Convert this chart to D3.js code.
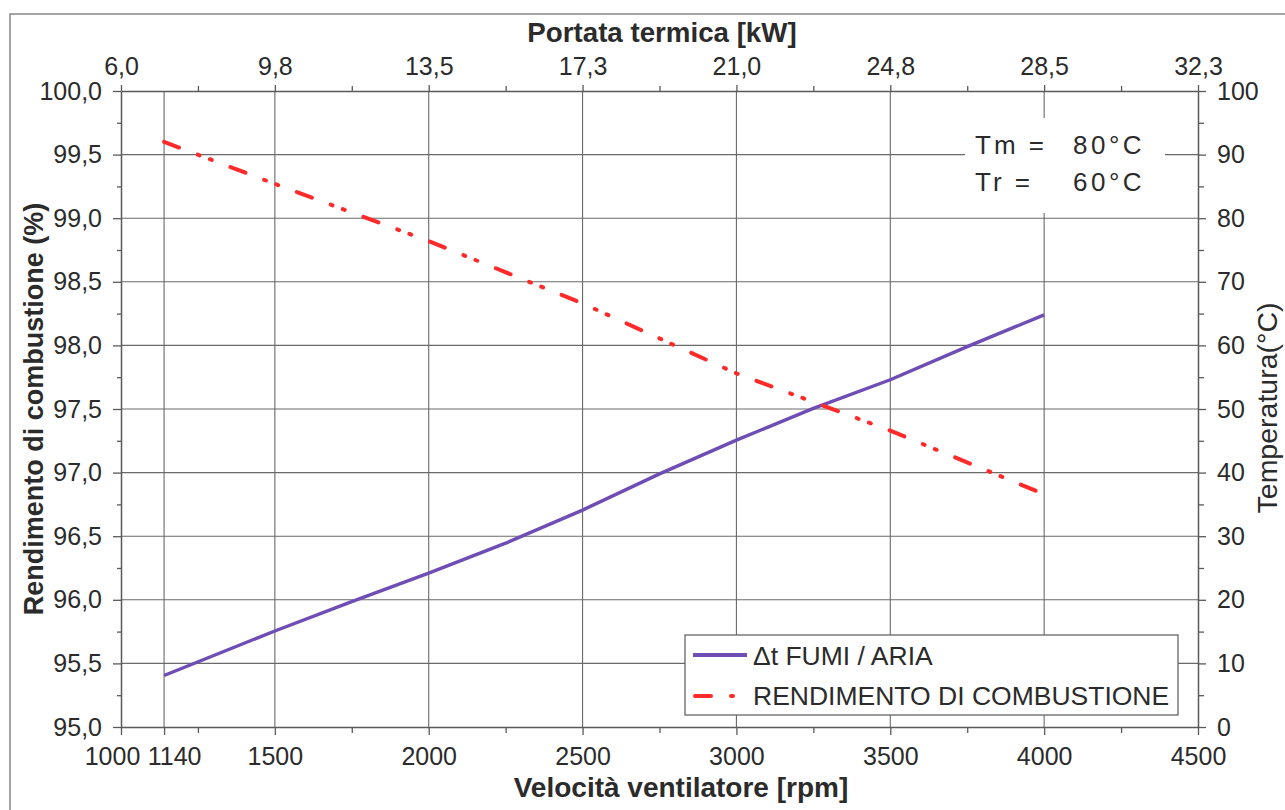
<!DOCTYPE html>
<html><head><meta charset="utf-8">
<script src="https://cdn.jsdelivr.net/npm/d3@7"></script>
<style>
body{margin:0;background:#fff}
text{font-family:"Liberation Sans",Arial,sans-serif;fill:#2b2b2b}
</style>
</head><body><svg id="c" width="1285" height="810"></svg>
<script>
// ---- data ----
const rpm = [1140,1500,1750,2000,2250,2500,2750,3000,3250,3500,3750,4000];
const deltaT = [8.1,15.1,19.7,24.2,28.9,34.1,39.8,45.1,50.1,54.6,59.8,64.8];
const rpmRend = [1140,1500,2000,2500,3000,3500,4000];
const rendimento = [99.60,99.27,98.82,98.33,97.78,97.33,96.83];
const xTicks = [1000,1140,1500,2000,2500,3000,3500,4000,4500];
const xMinor = [1250,1750,2250,2750,3250,3750,4250];
const topDomain = [6.0,32.3];
const leftTicks = [95.0,95.5,96.0,96.5,97.0,97.5,98.0,98.5,99.0,99.5,100.0];
const leftMinor = [95.25,95.75,96.25,96.75,97.25,97.75,98.25,98.75,99.25,99.75];
const rightTicks = [0,10,20,30,40,50,60,70,80,90,100];
const rightMinor = [5,15,25,35,45,55,65,75,85,95];
const seriesNames = ["\u0394t FUMI / ARIA","RENDIMENTO DI COMBUSTIONE"];
const noteLabels = ["Tm =","Tr ="];
const noteValues = ["80\u00B0C","60\u00B0C"];

// ---- layout ----
const L=121,R=1198,T=91,B=727;
const svg=d3.select("#c");
const x=d3.scaleLinear([1000,4500],[L,R]);
const xTop=d3.scaleLinear(topDomain,[L,R]);
const yL=d3.scaleLinear([95,100],[B,T]);
const yR=d3.scaleLinear([0,100],[B,T]);
const comma=f=>s=>d3.format(f)(s).replace(".",",");
const gridC="#6a6a6a", axisC="#5a5a5a";

// outer frame
svg.append("rect").attr("x",10).attr("y",14).attr("width",1300).attr("height",820)
  .attr("fill","#fff").attr("stroke","#888").attr("stroke-width",1.5);

// grid
svg.append("g").selectAll("line").data(leftTicks.filter(d=>d>95&&d<100)).join("line")
  .attr("x1",L).attr("x2",R).attr("y1",d=>yL(d)).attr("y2",d=>yL(d))
  .attr("stroke",gridC).attr("stroke-width",1.1);
svg.append("g").selectAll("line").data(xTicks.filter(d=>d>1000&&d<4500)).join("line")
  .attr("y1",T).attr("y2",B).attr("x1",d=>x(d)).attr("x2",d=>x(d))
  .attr("stroke",gridC).attr("stroke-width",1.1);

// note box (covers grid)
svg.append("rect").attr("x",965).attr("y",118).attr("width",200).attr("height",95).attr("fill","#fff");
noteLabels.forEach((t,i)=>{
  svg.append("text").attr("x",975).attr("y",154+i*37).attr("font-size",26).attr("letter-spacing",3).text(t);
  svg.append("text").attr("x",1073).attr("y",154+i*37).attr("font-size",26).attr("letter-spacing",3.5).text(noteValues[i]);
});

function styleAxis(g,fs){
  g.select(".domain").attr("stroke",axisC).attr("stroke-width",1.5);
  g.selectAll(".tick line").attr("stroke",axisC).attr("stroke-width",1.3);
  g.selectAll("text").attr("font-size",fs).attr("fill","#2b2b2b").attr("font-family",'"Liberation Sans",Arial,sans-serif');
}
// bottom axis
const gb=svg.append("g").attr("transform",`translate(0,${B})`)
  .call(d3.axisBottom(x).tickValues(xTicks).tickSize(8).tickSizeOuter(0).tickPadding(12).tickFormat(d3.format("d")));
styleAxis(gb,25);
gb.selectAll(".tick text").attr("dx",d=>d===1000?-9:(d===1140?10:0));
svg.append("g").attr("transform",`translate(0,${B})`)
  .call(d3.axisBottom(x).tickValues(xMinor).tickSize(6).tickFormat(""))
  .call(g=>{g.select(".domain").remove();g.selectAll("line").attr("stroke",axisC).attr("stroke-width",1.3);});

// top axis
const topVals=d3.range(8).map(i=>topDomain[0]+i*(topDomain[1]-topDomain[0])/7);
const topMinor=d3.range(7).map(i=>topDomain[0]+(i+0.5)*(topDomain[1]-topDomain[0])/7);
const gt=svg.append("g").attr("transform",`translate(0,${T})`)
  .call(d3.axisTop(xTop).tickValues(topVals).tickSize(6).tickSizeOuter(0).tickPadding(10).tickFormat(comma(".1f")));
styleAxis(gt,25);
svg.append("g").attr("transform",`translate(0,${T})`)
  .call(d3.axisTop(xTop).tickValues(topMinor).tickSize(5).tickFormat(""))
  .call(g=>{g.select(".domain").remove();g.selectAll("line").attr("stroke",axisC).attr("stroke-width",1.3);});

// left axis
const gl=svg.append("g").attr("transform",`translate(${L},0)`)
  .call(d3.axisLeft(yL).tickValues(leftTicks).tickSize(8).tickSizeOuter(0).tickPadding(11).tickFormat(comma(".1f")));
styleAxis(gl,25);
svg.append("g").attr("transform",`translate(${L},0)`)
  .call(d3.axisLeft(yL).tickValues(leftMinor).tickSize(4).tickFormat(""))
  .call(g=>{g.select(".domain").remove();g.selectAll("line").attr("stroke",axisC).attr("stroke-width",1.3);});

// right axis
const gr=svg.append("g").attr("transform",`translate(${R},0)`)
  .call(d3.axisRight(yR).tickValues(rightTicks).tickSize(8).tickSizeOuter(0).tickPadding(11).tickFormat(d3.format("d")));
styleAxis(gr,25);
svg.append("g").attr("transform",`translate(${R},0)`)
  .call(d3.axisRight(yR).tickValues(rightMinor).tickSize(6).tickFormat(""))
  .call(g=>{g.select(".domain").remove();g.selectAll("line").attr("stroke",axisC).attr("stroke-width",1.3);});

// titles
svg.append("text").attr("x",662).attr("y",42).attr("text-anchor","middle")
  .attr("font-size",27.7).attr("font-weight","bold").text("Portata termica [kW]");
svg.append("text").attr("x",681).attr("y",797).attr("text-anchor","middle")
  .attr("font-size",28).attr("font-weight","bold").text("Velocità ventilatore [rpm]");
svg.append("text").attr("transform",`translate(43,${(T+B)/2}) rotate(-90)`).attr("text-anchor","middle")
  .attr("font-size",27).attr("font-weight","bold").text("Rendimento di combustione (%)");
svg.append("text").attr("transform",`translate(1277,408) rotate(-90)`).attr("text-anchor","middle")
  .attr("font-size",28.5).text("Temperatura(°C)");

// series
const purple="#6e4db4", red="#ff2b2b";
const redDash="16,20,2,11,2,20";
svg.append("path").datum(rpm.map((r,i)=>[r,deltaT[i]]))
  .attr("d",d3.line().x(d=>x(d[0])).y(d=>yR(d[1])))
  .attr("fill","none").attr("stroke",purple).attr("stroke-width",3.4).attr("stroke-linejoin","round");
svg.append("path").datum(rpmRend.map((r,i)=>[r,rendimento[i]]))
  .attr("d",d3.line().x(d=>x(d[0])).y(d=>yL(d[1])))
  .attr("fill","none").attr("stroke",red).attr("stroke-width",4).attr("stroke-linecap","round")
  .attr("stroke-dasharray",redDash);

// legend
const lg=svg.append("g");
lg.append("rect").attr("x",685).attr("y",635).attr("width",493).attr("height",80)
  .attr("fill","#fff").attr("stroke","#666").attr("stroke-width",1.3);
lg.append("line").attr("x1",693).attr("x2",747).attr("y1",655).attr("y2",655)
  .attr("stroke",purple).attr("stroke-width",4);
lg.append("line").attr("x1",695).attr("x2",745).attr("y1",696).attr("y2",696)
  .attr("stroke",red).attr("stroke-width",4).attr("stroke-linecap","round").attr("stroke-dasharray","16,20,2,30");
seriesNames.forEach((s,i)=>{
  lg.append("text").attr("x",753).attr("y",665+i*40).attr("font-size",26.5).text(s);
});
</script></body></html>
